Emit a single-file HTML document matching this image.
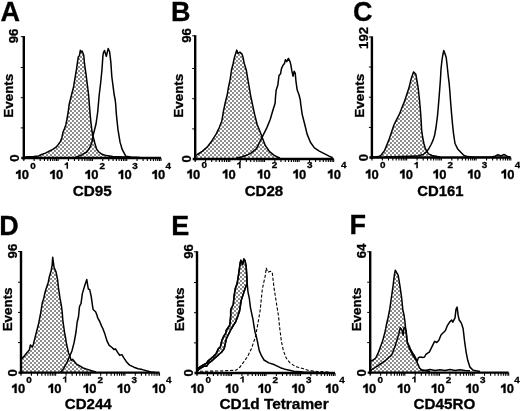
<!DOCTYPE html>
<html><head><meta charset="utf-8"><style>
html,body{margin:0;padding:0;background:#fff;}
svg{display:block;filter:grayscale(1);}
text{font-family:"Liberation Sans", sans-serif;font-weight:bold;fill:#000;stroke:#000;stroke-width:0.3px;}
path.g1{stroke:#000;stroke-width:0.3px;}
</style></head><body>
<svg width="520" height="411" viewBox="0 0 520 411">
<defs>
<pattern id="hatch" width="4" height="4" patternUnits="userSpaceOnUse">
<rect width="4" height="4" fill="#fff"/>
<rect x="0" y="0" width="2" height="2" fill="#8c8c8c"/>
<rect x="2" y="2" width="2" height="2" fill="#8c8c8c"/>
</pattern>
</defs>
<rect width="520" height="411" fill="#fff"/>
<polygon points="24.5,157.2 26.9,156.8 33.7,156.5 38.6,156.0 41.5,154.5 45.4,153.1 49.3,151.1 53.2,149.2 56.1,147.2 58.5,144.3 60.5,141.4 61.9,137.5 62.9,132.6 64.4,128.8 65.8,124.9 66.8,120.0 68.2,112.0 69.2,104.2 71.5,95.0 73.6,86.7 75.0,78.0 76.5,69.2 77.5,62.0 78.3,57.0 79.5,55.5 80.3,50.3 81.2,52.0 82.1,51.0 83.7,55.0 84.5,63.7 86.1,74.8 87.7,87.5 88.6,95.0 89.4,105.0 90.2,115.0 91.0,123.0 92.0,131.5 93.0,135.8 94.8,143.0 96.6,149.3 98.9,152.0 102.0,154.3 106.5,155.6 112.8,156.5 130.0,157.3 130.0,158.0 24.5,158.0" fill="url(#hatch)" stroke="none"/>
<polyline points="24.5,157.2 26.9,156.8 33.7,156.5 38.6,156.0 41.5,154.5 45.4,153.1 49.3,151.1 53.2,149.2 56.1,147.2 58.5,144.3 60.5,141.4 61.9,137.5 62.9,132.6 64.4,128.8 65.8,124.9 66.8,120.0 68.2,112.0 69.2,104.2 71.5,95.0 73.6,86.7 75.0,78.0 76.5,69.2 77.5,62.0 78.3,57.0 79.5,55.5 80.3,50.3 81.2,52.0 82.1,51.0 83.7,55.0 84.5,63.7 86.1,74.8 87.7,87.5 88.6,95.0 89.4,105.0 90.2,115.0 91.0,123.0 92.0,131.5 93.0,135.8 94.8,143.0 96.6,149.3 98.9,152.0 102.0,154.3 106.5,155.6 112.8,156.5 130.0,157.3" fill="none" stroke="#000" stroke-width="1.5" stroke-linejoin="round"/>
<polyline points="75.0,157.5 78.6,156.1 82.2,154.7 86.7,152.0 89.9,147.5 91.7,143.0 93.0,135.8 94.3,130.8 96.0,124.0 97.7,112.0 99.2,95.0 100.7,82.5 102.0,69.3 102.9,56.0 103.5,52.3 104.5,50.5 106.3,56.4 108.2,48.5 109.6,51.7 110.8,61.9 111.8,76.5 113.7,91.2 114.2,95.0 115.2,100.0 115.6,103.5 116.4,114.6 117.9,129.2 120.1,142.4 122.3,149.7 125.9,156.3 131.0,157.0 140.0,157.5" fill="none" stroke="#000" stroke-width="1.5" stroke-linejoin="round"/>
<line x1="23.8" y1="36.1" x2="23.8" y2="159.5" stroke="#000" stroke-width="2.4"/>
<line x1="21.3" y1="158" x2="161" y2="158" stroke="#000" stroke-width="2.3"/>
<line x1="20.8" y1="36.7" x2="23.8" y2="36.7" stroke="#000" stroke-width="1"/>
<line x1="20.8" y1="127.9" x2="23.8" y2="127.9" stroke="#000" stroke-width="1"/>
<line x1="20.8" y1="97.7" x2="23.8" y2="97.7" stroke="#000" stroke-width="1"/>
<line x1="20.8" y1="67.5" x2="23.8" y2="67.5" stroke="#000" stroke-width="1"/>
<path d="M23.80 158 v3.0 M34.13 158 v3.0 M40.17 158 v3.0 M44.45 158 v3.0 M47.77 158 v3.0 M50.49 158 v3.0 M52.79 158 v3.0 M54.78 158 v3.0 M56.53 158 v3.0 M58.10 158 v3.0 M68.43 158 v3.0 M74.47 158 v3.0 M78.75 158 v3.0 M82.07 158 v3.0 M84.79 158 v3.0 M87.09 158 v3.0 M89.08 158 v3.0 M90.83 158 v3.0 M92.40 158 v3.0 M102.73 158 v3.0 M108.77 158 v3.0 M113.05 158 v3.0 M116.37 158 v3.0 M119.09 158 v3.0 M121.39 158 v3.0 M123.38 158 v3.0 M125.13 158 v3.0 M126.70 158 v3.0 M137.03 158 v3.0 M143.07 158 v3.0 M147.35 158 v3.0 M150.67 158 v3.0 M153.39 158 v3.0 M155.69 158 v3.0 M157.68 158 v3.0 M159.43 158 v3.0 M161.00 158 v3.0" stroke="#000" stroke-width="1.1"/>
<path class="g1" transform="translate(16.00,179.10)" d="M4.55,0 L2.5,0 L2.5,-6.2 C1.9,-5.6 1,-5.2 0,-5.0 L0,-7.0 C1.4,-7.3 2.3,-8.2 2.8,-9.2 L4.55,-9.2 Z"/>
<text x="21.78" y="179.20" font-size="13" >0</text>
<text transform="translate(30.20,168.70) scale(1.1,1)" font-size="9">0</text>
<path class="g1" transform="translate(50.20,179.10)" d="M4.55,0 L2.5,0 L2.5,-6.2 C1.9,-5.6 1,-5.2 0,-5.0 L0,-7.0 C1.4,-7.3 2.3,-8.2 2.8,-9.2 L4.55,-9.2 Z"/>
<text x="55.98" y="179.20" font-size="13" >0</text>
<path transform="translate(64.60,168.70) scale(0.76,0.69)" d="M4.55,0 L2.5,0 L2.5,-6.2 C1.9,-5.6 1,-5.2 0,-5.0 L0,-7.0 C1.4,-7.3 2.3,-8.2 2.8,-9.2 L4.55,-9.2 Z"/>
<path class="g1" transform="translate(85.40,179.10)" d="M4.55,0 L2.5,0 L2.5,-6.2 C1.9,-5.6 1,-5.2 0,-5.0 L0,-7.0 C1.4,-7.3 2.3,-8.2 2.8,-9.2 L4.55,-9.2 Z"/>
<text x="91.18" y="179.20" font-size="13" >0</text>
<text transform="translate(99.40,168.70) scale(1.1,1)" font-size="9">2</text>
<path class="g1" transform="translate(118.60,179.10)" d="M4.55,0 L2.5,0 L2.5,-6.2 C1.9,-5.6 1,-5.2 0,-5.0 L0,-7.0 C1.4,-7.3 2.3,-8.2 2.8,-9.2 L4.55,-9.2 Z"/>
<text x="124.38" y="179.20" font-size="13" >0</text>
<text transform="translate(132.30,168.70) scale(1.1,1)" font-size="9">3</text>
<path class="g1" transform="translate(152.30,179.10)" d="M4.55,0 L2.5,0 L2.5,-6.2 C1.9,-5.6 1,-5.2 0,-5.0 L0,-7.0 C1.4,-7.3 2.3,-8.2 2.8,-9.2 L4.55,-9.2 Z"/>
<text x="158.08" y="179.20" font-size="13" >0</text>
<text transform="translate(165.50,168.70) scale(1.1,1)" font-size="9">4</text>
<text transform="translate(18.40,36.00) rotate(-90)" text-anchor="middle" font-size="13.2">96</text>
<text transform="translate(18.70,158.00) rotate(-90)" text-anchor="middle" font-size="13.2">0</text>
<text transform="translate(13.20,95.70) rotate(-90)" text-anchor="middle" font-size="13.4">Events</text>
<text transform="translate(72.79,195.60) scale(1.070,1)" font-size="14.3">CD95</text>
<text x="0.39" y="20.80" font-size="27" >A</text>
<polygon points="196.0,155.5 197.3,154.5 202.2,151.3 207.1,147.2 212.0,140.7 216.1,134.1 219.3,127.6 221.8,121.1 223.4,111.3 225.1,103.2 227.2,95.0 228.4,87.6 230.2,79.1 231.4,70.5 233.2,63.2 234.5,57.2 236.7,50.1 238.0,53.5 239.9,52.1 242.0,54.1 243.0,57.2 244.2,63.2 246.4,70.5 247.8,79.1 249.3,87.6 250.5,95.0 252.2,103.2 254.7,114.6 257.1,124.3 260.4,132.5 262.8,139.0 265.3,145.5 269.3,151.3 274.2,155.3 277.5,157.0 280.0,158.0 280.0,159.0 196.0,159.0" fill="url(#hatch)" stroke="none"/>
<polyline points="196.0,155.5 197.3,154.5 202.2,151.3 207.1,147.2 212.0,140.7 216.1,134.1 219.3,127.6 221.8,121.1 223.4,111.3 225.1,103.2 227.2,95.0 228.4,87.6 230.2,79.1 231.4,70.5 233.2,63.2 234.5,57.2 236.7,50.1 238.0,53.5 239.9,52.1 242.0,54.1 243.0,57.2 244.2,63.2 246.4,70.5 247.8,79.1 249.3,87.6 250.5,95.0 252.2,103.2 254.7,114.6 257.1,124.3 260.4,132.5 262.8,139.0 265.3,145.5 269.3,151.3 274.2,155.3 277.5,157.0 280.0,158.0" fill="none" stroke="#000" stroke-width="1.5" stroke-linejoin="round"/>
<polyline points="236.0,158.0 241.6,157.0 246.5,155.3 251.4,152.9 256.3,148.8 259.6,142.3 262.8,135.8 266.9,127.6 270.2,119.5 272.6,111.3 275.1,103.2 275.5,97.0 276.2,90.1 277.8,85.3 279.0,75.5 280.6,73.7 281.4,68.9 283.0,65.2 284.5,63.4 285.4,59.7 286.7,61.6 288.4,58.3 290.0,61.6 290.8,64.6 291.8,70.7 293.0,76.2 294.2,71.3 295.2,73.1 296.0,81.6 297.2,90.1 299.1,95.0 300.3,100.0 300.6,103.1 302.2,114.5 304.7,124.3 307.1,134.1 310.4,142.2 314.4,147.9 319.3,151.2 324.2,153.6 329.1,156.1 332.7,157.7" fill="none" stroke="#000" stroke-width="1.5" stroke-linejoin="round"/>
<line x1="195.2" y1="35.2" x2="195.2" y2="160.5" stroke="#000" stroke-width="2.4"/>
<line x1="192.7" y1="159" x2="333.7" y2="159" stroke="#000" stroke-width="2.3"/>
<line x1="192.2" y1="35.8" x2="195.2" y2="35.8" stroke="#000" stroke-width="1"/>
<line x1="192.2" y1="128.9" x2="195.2" y2="128.9" stroke="#000" stroke-width="1"/>
<line x1="192.2" y1="98.7" x2="195.2" y2="98.7" stroke="#000" stroke-width="1"/>
<line x1="192.2" y1="68.5" x2="195.2" y2="68.5" stroke="#000" stroke-width="1"/>
<path d="M195.20 159 v3.0 M205.62 159 v3.0 M211.72 159 v3.0 M216.05 159 v3.0 M219.40 159 v3.0 M222.14 159 v3.0 M224.46 159 v3.0 M226.47 159 v3.0 M228.24 159 v3.0 M229.82 159 v3.0 M240.25 159 v3.0 M246.35 159 v3.0 M250.67 159 v3.0 M254.03 159 v3.0 M256.77 159 v3.0 M259.09 159 v3.0 M261.09 159 v3.0 M262.87 159 v3.0 M264.45 159 v3.0 M274.87 159 v3.0 M280.97 159 v3.0 M285.30 159 v3.0 M288.65 159 v3.0 M291.39 159 v3.0 M293.71 159 v3.0 M295.72 159 v3.0 M297.49 159 v3.0 M299.07 159 v3.0 M309.50 159 v3.0 M315.60 159 v3.0 M319.92 159 v3.0 M323.28 159 v3.0 M326.02 159 v3.0 M328.34 159 v3.0 M330.34 159 v3.0 M332.12 159 v3.0 M333.70 159 v3.0" stroke="#000" stroke-width="1.1"/>
<path class="g1" transform="translate(187.30,178.60)" d="M4.55,0 L2.5,0 L2.5,-6.2 C1.9,-5.6 1,-5.2 0,-5.0 L0,-7.0 C1.4,-7.3 2.3,-8.2 2.8,-9.2 L4.55,-9.2 Z"/>
<text x="193.08" y="178.70" font-size="13" >0</text>
<text transform="translate(201.50,168.20) scale(1.1,1)" font-size="9">0</text>
<path class="g1" transform="translate(222.80,178.60)" d="M4.55,0 L2.5,0 L2.5,-6.2 C1.9,-5.6 1,-5.2 0,-5.0 L0,-7.0 C1.4,-7.3 2.3,-8.2 2.8,-9.2 L4.55,-9.2 Z"/>
<text x="228.58" y="178.70" font-size="13" >0</text>
<path transform="translate(237.20,168.20) scale(0.76,0.69)" d="M4.55,0 L2.5,0 L2.5,-6.2 C1.9,-5.6 1,-5.2 0,-5.0 L0,-7.0 C1.4,-7.3 2.3,-8.2 2.8,-9.2 L4.55,-9.2 Z"/>
<path class="g1" transform="translate(257.70,178.60)" d="M4.55,0 L2.5,0 L2.5,-6.2 C1.9,-5.6 1,-5.2 0,-5.0 L0,-7.0 C1.4,-7.3 2.3,-8.2 2.8,-9.2 L4.55,-9.2 Z"/>
<text x="263.48" y="178.70" font-size="13" >0</text>
<text transform="translate(271.70,168.20) scale(1.1,1)" font-size="9">2</text>
<path class="g1" transform="translate(293.30,178.60)" d="M4.55,0 L2.5,0 L2.5,-6.2 C1.9,-5.6 1,-5.2 0,-5.0 L0,-7.0 C1.4,-7.3 2.3,-8.2 2.8,-9.2 L4.55,-9.2 Z"/>
<text x="299.08" y="178.70" font-size="13" >0</text>
<text transform="translate(307.00,168.20) scale(1.1,1)" font-size="9">3</text>
<path class="g1" transform="translate(327.90,178.60)" d="M4.55,0 L2.5,0 L2.5,-6.2 C1.9,-5.6 1,-5.2 0,-5.0 L0,-7.0 C1.4,-7.3 2.3,-8.2 2.8,-9.2 L4.55,-9.2 Z"/>
<text x="333.68" y="178.70" font-size="13" >0</text>
<text transform="translate(341.10,168.20) scale(1.1,1)" font-size="9">4</text>
<text transform="translate(191.40,35.50) rotate(-90)" text-anchor="middle" font-size="13.2">96</text>
<text transform="translate(191.20,158.80) rotate(-90)" text-anchor="middle" font-size="13.2">0</text>
<text transform="translate(183.30,95.70) rotate(-90)" text-anchor="middle" font-size="13.4">Events</text>
<text transform="translate(244.70,195.50) scale(1.053,1)" font-size="14.3">CD28</text>
<text x="171.01" y="20.50" font-size="27" >B</text>
<polygon points="373.0,157.3 378.9,156.6 381.2,155.0 384.7,150.4 387.0,144.6 389.3,138.8 391.6,131.9 393.9,125.0 396.2,120.4 399.7,113.5 402.0,107.5 404.3,101.9 406.6,95.0 408.9,88.1 411.2,78.8 413.5,71.9 415.8,74.2 417.0,81.0 418.2,88.1 419.4,99.0 420.5,111.2 421.1,120.0 421.6,129.6 422.6,137.0 423.9,143.5 425.0,147.5 426.2,150.4 428.5,153.8 432.0,155.5 440.0,157.0 440.0,157.5 373.0,157.5" fill="url(#hatch)" stroke="none"/>
<polyline points="373.0,157.3 378.9,156.6 381.2,155.0 384.7,150.4 387.0,144.6 389.3,138.8 391.6,131.9 393.9,125.0 396.2,120.4 399.7,113.5 402.0,107.5 404.3,101.9 406.6,95.0 408.9,88.1 411.2,78.8 413.5,71.9 415.8,74.2 417.0,81.0 418.2,88.1 419.4,99.0 420.5,111.2 421.1,120.0 421.6,129.6 422.6,137.0 423.9,143.5 425.0,147.5 426.2,150.4 428.5,153.8 432.0,155.5 440.0,157.0" fill="none" stroke="#000" stroke-width="1.5" stroke-linejoin="round"/>
<polyline points="385.0,157.0 400.0,156.6 410.0,156.2 418.3,155.7 423.2,154.5 425.8,152.4 428.7,148.9 431.1,144.5 433.1,140.1 434.6,135.3 436.0,127.5 437.5,115.8 438.3,107.0 439.0,98.3 439.8,88.0 440.4,80.0 441.0,69.2 442.0,60.0 442.7,55.5 443.8,50.5 444.9,53.5 446.2,57.5 447.2,66.0 448.3,76.5 449.2,83.7 449.9,92.0 450.6,102.0 451.5,112.9 452.5,124.0 453.5,133.3 455.0,143.5 457.9,149.3 460.8,152.2 463.7,155.2 467.2,156.6 475.0,157.2 490.0,157.2 495.0,156.2 498.0,154.8 501.0,156.0 504.0,154.5 507.0,156.2 510.0,157.2" fill="none" stroke="#000" stroke-width="1.5" stroke-linejoin="round"/>
<line x1="371.9" y1="36.4" x2="371.9" y2="159.0" stroke="#000" stroke-width="2.4"/>
<line x1="369.4" y1="157.5" x2="510.8" y2="157.5" stroke="#000" stroke-width="2.3"/>
<line x1="368.9" y1="37.0" x2="371.9" y2="37.0" stroke="#000" stroke-width="1"/>
<line x1="368.9" y1="127.4" x2="371.9" y2="127.4" stroke="#000" stroke-width="1"/>
<line x1="368.9" y1="97.2" x2="371.9" y2="97.2" stroke="#000" stroke-width="1"/>
<line x1="368.9" y1="67.0" x2="371.9" y2="67.0" stroke="#000" stroke-width="1"/>
<path d="M371.90 157.5 v3.0 M382.35 157.5 v3.0 M388.47 157.5 v3.0 M392.81 157.5 v3.0 M396.17 157.5 v3.0 M398.92 157.5 v3.0 M401.25 157.5 v3.0 M403.26 157.5 v3.0 M405.04 157.5 v3.0 M406.62 157.5 v3.0 M417.08 157.5 v3.0 M423.19 157.5 v3.0 M427.53 157.5 v3.0 M430.90 157.5 v3.0 M433.65 157.5 v3.0 M435.97 157.5 v3.0 M437.98 157.5 v3.0 M439.76 157.5 v3.0 M441.35 157.5 v3.0 M451.80 157.5 v3.0 M457.92 157.5 v3.0 M462.26 157.5 v3.0 M465.62 157.5 v3.0 M468.37 157.5 v3.0 M470.70 157.5 v3.0 M472.71 157.5 v3.0 M474.49 157.5 v3.0 M476.07 157.5 v3.0 M486.53 157.5 v3.0 M492.64 157.5 v3.0 M496.98 157.5 v3.0 M500.35 157.5 v3.0 M503.10 157.5 v3.0 M505.42 157.5 v3.0 M507.43 157.5 v3.0 M509.21 157.5 v3.0 M510.80 157.5 v3.0" stroke="#000" stroke-width="1.1"/>
<path class="g1" transform="translate(365.80,178.60)" d="M4.55,0 L2.5,0 L2.5,-6.2 C1.9,-5.6 1,-5.2 0,-5.0 L0,-7.0 C1.4,-7.3 2.3,-8.2 2.8,-9.2 L4.55,-9.2 Z"/>
<text x="371.58" y="178.70" font-size="13" >0</text>
<text transform="translate(380.00,168.20) scale(1.1,1)" font-size="9">0</text>
<path class="g1" transform="translate(400.00,178.60)" d="M4.55,0 L2.5,0 L2.5,-6.2 C1.9,-5.6 1,-5.2 0,-5.0 L0,-7.0 C1.4,-7.3 2.3,-8.2 2.8,-9.2 L4.55,-9.2 Z"/>
<text x="405.78" y="178.70" font-size="13" >0</text>
<path transform="translate(414.40,168.20) scale(0.76,0.69)" d="M4.55,0 L2.5,0 L2.5,-6.2 C1.9,-5.6 1,-5.2 0,-5.0 L0,-7.0 C1.4,-7.3 2.3,-8.2 2.8,-9.2 L4.55,-9.2 Z"/>
<path class="g1" transform="translate(433.40,178.60)" d="M4.55,0 L2.5,0 L2.5,-6.2 C1.9,-5.6 1,-5.2 0,-5.0 L0,-7.0 C1.4,-7.3 2.3,-8.2 2.8,-9.2 L4.55,-9.2 Z"/>
<text x="439.18" y="178.70" font-size="13" >0</text>
<text transform="translate(447.40,168.20) scale(1.1,1)" font-size="9">2</text>
<path class="g1" transform="translate(468.00,178.60)" d="M4.55,0 L2.5,0 L2.5,-6.2 C1.9,-5.6 1,-5.2 0,-5.0 L0,-7.0 C1.4,-7.3 2.3,-8.2 2.8,-9.2 L4.55,-9.2 Z"/>
<text x="473.78" y="178.70" font-size="13" >0</text>
<text transform="translate(481.70,168.20) scale(1.1,1)" font-size="9">3</text>
<path class="g1" transform="translate(501.50,178.60)" d="M4.55,0 L2.5,0 L2.5,-6.2 C1.9,-5.6 1,-5.2 0,-5.0 L0,-7.0 C1.4,-7.3 2.3,-8.2 2.8,-9.2 L4.55,-9.2 Z"/>
<text x="507.28" y="178.70" font-size="13" >0</text>
<text transform="translate(514.70,168.20) scale(1.1,1)" font-size="9">4</text>
<text transform="translate(368.30,37.90) rotate(-90)" text-anchor="middle" font-size="13.2">192</text>
<text transform="translate(368.20,157.70) rotate(-90)" text-anchor="middle" font-size="13.2">0</text>
<text transform="translate(363.80,95.70) rotate(-90)" text-anchor="middle" font-size="13.4">Events</text>
<text transform="translate(417.31,195.90) scale(1.039,1)" font-size="14.3">CD161</text>
<text x="353.12" y="20.60" font-size="27" >C</text>
<polygon points="22.0,358.4 24.1,356.3 27.3,352.2 29.3,350.1 30.4,344.9 32.4,347.0 33.5,343.9 34.5,339.7 36.6,331.5 38.7,323.2 40.7,312.8 42.4,302.4 43.8,298.3 44.6,294.0 46.1,288.7 48.3,282.2 49.3,277.0 51.2,270.5 52.2,264.6 52.7,257.3 54.1,267.5 56.0,271.9 57.5,279.2 58.5,288.0 60.0,298.2 61.4,305.6 62.2,312.0 62.8,320.0 63.8,327.0 64.6,333.0 65.6,338.0 66.5,344.0 67.4,347.6 68.4,352.5 69.8,356.0 71.2,360.5 72.6,359.3 74.0,361.0 76.2,363.8 79.7,365.9 83.2,368.0 87.5,369.4 91.7,370.8 96.0,372.0 96.0,372.7 22.0,372.7" fill="url(#hatch)" stroke="none"/>
<polyline points="22.0,358.4 24.1,356.3 27.3,352.2 29.3,350.1 30.4,344.9 32.4,347.0 33.5,343.9 34.5,339.7 36.6,331.5 38.7,323.2 40.7,312.8 42.4,302.4 43.8,298.3 44.6,294.0 46.1,288.7 48.3,282.2 49.3,277.0 51.2,270.5 52.2,264.6 52.7,257.3 54.1,267.5 56.0,271.9 57.5,279.2 58.5,288.0 60.0,298.2 61.4,305.6 62.2,312.0 62.8,320.0 63.8,327.0 64.6,333.0 65.6,338.0 66.5,344.0 67.4,347.6 68.4,352.5 69.8,356.0 71.2,360.5 72.6,359.3 74.0,361.0 76.2,363.8 79.7,365.9 83.2,368.0 87.5,369.4 91.7,370.8 96.0,372.0" fill="none" stroke="#000" stroke-width="1.5" stroke-linejoin="round"/>
<polyline points="60.6,372.2 63.5,368.7 67.0,362.4 69.8,356.0 71.9,351.0 74.1,342.6 76.0,332.0 77.2,322.0 78.5,316.8 79.5,306.5 81.0,303.6 82.4,293.4 84.6,286.1 86.8,279.5 88.3,289.0 89.7,289.7 91.2,296.3 92.2,303.6 93.1,309.5 95.6,311.7 97.0,315.3 97.8,318.2 99.5,321.0 101.4,325.6 102.8,328.5 104.9,334.1 107.1,341.2 109.2,345.4 112.0,347.5 114.1,349.6 115.5,348.9 117.6,352.4 119.7,355.3 121.9,354.6 124.0,358.1 126.8,362.3 129.6,365.1 133.9,367.2 138.1,368.7 142.3,369.6 146.5,370.8 150.8,371.9 155.0,372.5" fill="none" stroke="#000" stroke-width="1.5" stroke-linejoin="round"/>
<line x1="21" y1="251.0" x2="21" y2="374.2" stroke="#000" stroke-width="2.4"/>
<line x1="18.5" y1="372.7" x2="159.5" y2="372.7" stroke="#000" stroke-width="2.3"/>
<line x1="18" y1="251.6" x2="21" y2="251.6" stroke="#000" stroke-width="1"/>
<line x1="18" y1="342.6" x2="21" y2="342.6" stroke="#000" stroke-width="1"/>
<line x1="18" y1="312.4" x2="21" y2="312.4" stroke="#000" stroke-width="1"/>
<line x1="18" y1="282.2" x2="21" y2="282.2" stroke="#000" stroke-width="1"/>
<path d="M21.00 372.7 v3.0 M31.42 372.7 v3.0 M37.52 372.7 v3.0 M41.85 372.7 v3.0 M45.20 372.7 v3.0 M47.94 372.7 v3.0 M50.26 372.7 v3.0 M52.27 372.7 v3.0 M54.04 372.7 v3.0 M55.62 372.7 v3.0 M66.05 372.7 v3.0 M72.15 372.7 v3.0 M76.47 372.7 v3.0 M79.83 372.7 v3.0 M82.57 372.7 v3.0 M84.89 372.7 v3.0 M86.89 372.7 v3.0 M88.67 372.7 v3.0 M90.25 372.7 v3.0 M100.67 372.7 v3.0 M106.77 372.7 v3.0 M111.10 372.7 v3.0 M114.45 372.7 v3.0 M117.19 372.7 v3.0 M119.51 372.7 v3.0 M121.52 372.7 v3.0 M123.29 372.7 v3.0 M124.88 372.7 v3.0 M135.30 372.7 v3.0 M141.40 372.7 v3.0 M145.72 372.7 v3.0 M149.08 372.7 v3.0 M151.82 372.7 v3.0 M154.14 372.7 v3.0 M156.14 372.7 v3.0 M157.92 372.7 v3.0 M159.50 372.7 v3.0" stroke="#000" stroke-width="1.1"/>
<path class="g1" transform="translate(12.10,392.90)" d="M4.55,0 L2.5,0 L2.5,-6.2 C1.9,-5.6 1,-5.2 0,-5.0 L0,-7.0 C1.4,-7.3 2.3,-8.2 2.8,-9.2 L4.55,-9.2 Z"/>
<text x="17.88" y="393.00" font-size="13" >0</text>
<text transform="translate(26.30,382.50) scale(1.1,1)" font-size="9">0</text>
<path class="g1" transform="translate(48.50,392.90)" d="M4.55,0 L2.5,0 L2.5,-6.2 C1.9,-5.6 1,-5.2 0,-5.0 L0,-7.0 C1.4,-7.3 2.3,-8.2 2.8,-9.2 L4.55,-9.2 Z"/>
<text x="54.28" y="393.00" font-size="13" >0</text>
<path transform="translate(62.90,382.50) scale(0.76,0.69)" d="M4.55,0 L2.5,0 L2.5,-6.2 C1.9,-5.6 1,-5.2 0,-5.0 L0,-7.0 C1.4,-7.3 2.3,-8.2 2.8,-9.2 L4.55,-9.2 Z"/>
<path class="g1" transform="translate(83.50,392.90)" d="M4.55,0 L2.5,0 L2.5,-6.2 C1.9,-5.6 1,-5.2 0,-5.0 L0,-7.0 C1.4,-7.3 2.3,-8.2 2.8,-9.2 L4.55,-9.2 Z"/>
<text x="89.28" y="393.00" font-size="13" >0</text>
<text transform="translate(97.50,382.50) scale(1.1,1)" font-size="9">2</text>
<path class="g1" transform="translate(117.70,392.90)" d="M4.55,0 L2.5,0 L2.5,-6.2 C1.9,-5.6 1,-5.2 0,-5.0 L0,-7.0 C1.4,-7.3 2.3,-8.2 2.8,-9.2 L4.55,-9.2 Z"/>
<text x="123.48" y="393.00" font-size="13" >0</text>
<text transform="translate(131.40,382.50) scale(1.1,1)" font-size="9">3</text>
<path class="g1" transform="translate(152.70,392.90)" d="M4.55,0 L2.5,0 L2.5,-6.2 C1.9,-5.6 1,-5.2 0,-5.0 L0,-7.0 C1.4,-7.3 2.3,-8.2 2.8,-9.2 L4.55,-9.2 Z"/>
<text x="158.48" y="393.00" font-size="13" >0</text>
<text transform="translate(165.90,382.50) scale(1.1,1)" font-size="9">4</text>
<text transform="translate(16.80,251.10) rotate(-90)" text-anchor="middle" font-size="13.2">96</text>
<text transform="translate(17.20,372.80) rotate(-90)" text-anchor="middle" font-size="13.2">0</text>
<text transform="translate(11.70,309.40) rotate(-90)" text-anchor="middle" font-size="13.4">Events</text>
<text transform="translate(64.80,408.90) scale(1.055,1)" font-size="14.3">CD244</text>
<text x="-0.89" y="235.20" font-size="27" >D</text>
<polygon points="197.6,370.5 197.9,368.6 200.4,366.6 202.8,365.2 204.7,364.2 206.7,363.2 208.1,360.8 210.6,358.9 213.0,356.9 214.5,355.4 215.9,354.0 218.4,348.6 220.3,347.2 222.0,340.0 223.6,336.5 225.8,333.1 226.3,330.2 227.7,328.2 229.7,325.3 230.2,321.4 230.7,315.6 230.7,309.7 231.6,307.8 233.3,304.5 233.5,302.0 234.1,295.8 235.3,288.5 237.1,283.6 238.3,276.3 239.5,268.0 240.2,263.0 240.8,260.3 242.6,264.6 243.8,259.1 245.0,260.5 246.2,266.6 246.8,276.3 247.2,283.6 247.2,283.6 245.3,288.0 243.4,293.8 241.4,299.7 240.4,305.5 239.5,311.3 237.5,317.1 235.6,322.0 233.7,324.9 232.2,327.5 230.7,329.8 229.5,332.5 227.7,336.0 226.3,339.0 225.2,344.0 224.2,348.6 221.3,352.5 219.3,354.0 217.4,355.9 215.0,357.9 213.0,359.8 211.1,361.3 208.6,363.2 206.7,366.2 204.2,366.2 200.8,368.1 197.9,370.0 197.6,371.0 197.6,373.0 197.6,373.0" fill="url(#hatch)" stroke="none"/>
<polyline points="197.6,370.5 197.9,368.6 200.4,366.6 202.8,365.2 204.7,364.2 206.7,363.2 208.1,360.8 210.6,358.9 213.0,356.9 214.5,355.4 215.9,354.0 218.4,348.6 220.3,347.2 222.0,340.0 223.6,336.5 225.8,333.1 226.3,330.2 227.7,328.2 229.7,325.3 230.2,321.4 230.7,315.6 230.7,309.7 231.6,307.8 233.3,304.5 233.5,302.0 234.1,295.8 235.3,288.5 237.1,283.6 238.3,276.3 239.5,268.0 240.2,263.0 240.8,260.3 242.6,264.6 243.8,259.1 245.0,260.5 246.2,266.6 246.8,276.3 247.2,283.6 247.2,283.6 245.3,288.0 243.4,293.8 241.4,299.7 240.4,305.5 239.5,311.3 237.5,317.1 235.6,322.0 233.7,324.9 232.2,327.5 230.7,329.8 229.5,332.5 227.7,336.0 226.3,339.0 225.2,344.0 224.2,348.6 221.3,352.5 219.3,354.0 217.4,355.9 215.0,357.9 213.0,359.8 211.1,361.3 208.6,363.2 206.7,366.2 204.2,366.2 200.8,368.1 197.9,370.0 197.6,371.0" fill="none" stroke="#000" stroke-width="1.5" stroke-linejoin="round"/>
<polyline points="197.6,370.5 197.9,368.6 200.4,366.6 202.8,365.2 204.7,364.2 206.7,363.2 208.1,360.8 210.6,358.9 213.0,356.9 214.5,355.4 215.9,354.0 218.4,348.6 220.3,347.2 222.0,340.0 223.6,336.5 225.8,333.1 226.3,330.2 227.7,328.2 229.7,325.3 230.2,321.4 230.7,315.6 230.7,309.7 231.6,307.8 233.3,304.5 233.5,302.0 234.1,295.8 235.3,288.5 237.1,283.6 238.3,276.3 239.5,268.0 240.2,263.0 240.8,260.3 242.6,264.6 243.8,259.1 245.0,260.5 246.2,266.6 246.8,276.3 247.2,283.6 248.0,292.1 249.3,298.2 249.5,300.0 250.5,307.8 251.5,312.7 253.0,319.5 253.9,325.3 255.0,332.1 256.2,336.0 257.3,340.8 259.2,350.4 261.2,355.2 264.0,360.0 268.8,362.9 274.6,364.8 280.4,367.7 286.2,369.6 293.8,371.2 303.5,371.9 315.0,372.2" fill="none" stroke="#000" stroke-width="1.5" stroke-linejoin="round"/>
<polyline points="247.2,283.6 245.3,288.0 243.4,293.8 241.4,299.7 240.4,305.5 239.5,311.3 237.5,317.1 235.6,322.0 233.7,324.9 232.2,327.5 230.7,329.8 229.5,332.5 227.7,336.0 226.3,339.0 225.2,344.0 224.2,348.6 221.3,352.5 219.3,354.0 217.4,355.9 215.0,357.9 213.0,359.8 211.1,361.3 208.6,363.2 206.7,366.2 204.2,366.2 200.8,368.1 197.9,370.0 197.6,371.0" fill="none" stroke="#000" stroke-width="1.5" stroke-linejoin="round"/>
<polyline points="200.0,371.3 220.0,371.0 236.0,370.2 240.0,367.0 243.8,361.9 247.7,356.2 251.5,348.5 255.4,336.9 258.3,321.5 259.4,314.8 260.2,310.0 261.1,301.1 262.3,289.2 263.6,283.2 265.3,275.6 266.2,267.9 267.9,272.2 270.5,271.3 272.2,272.2 273.0,279.0 274.2,289.2 275.6,297.7 276.9,306.2 277.5,310.0 278.6,316.5 279.4,325.4 281.3,340.8 283.3,350.4 286.2,358.1 290.0,362.9 295.8,366.7 303.5,368.7 309.2,370.6 316.9,371.5 330.0,372.0" fill="none" stroke="#000" stroke-width="1.1" stroke-dasharray="3.2 1.8"/>
<line x1="197" y1="251.2" x2="197" y2="374.5" stroke="#000" stroke-width="2.4"/>
<line x1="194.5" y1="373" x2="335" y2="373" stroke="#000" stroke-width="2.3"/>
<line x1="194" y1="251.8" x2="197" y2="251.8" stroke="#000" stroke-width="1"/>
<line x1="194" y1="342.9" x2="197" y2="342.9" stroke="#000" stroke-width="1"/>
<line x1="194" y1="312.7" x2="197" y2="312.7" stroke="#000" stroke-width="1"/>
<line x1="194" y1="282.5" x2="197" y2="282.5" stroke="#000" stroke-width="1"/>
<path d="M197.00 373 v3.0 M207.39 373 v3.0 M213.46 373 v3.0 M217.77 373 v3.0 M221.11 373 v3.0 M223.85 373 v3.0 M226.16 373 v3.0 M228.16 373 v3.0 M229.92 373 v3.0 M231.50 373 v3.0 M241.89 373 v3.0 M247.96 373 v3.0 M252.27 373 v3.0 M255.61 373 v3.0 M258.35 373 v3.0 M260.66 373 v3.0 M262.66 373 v3.0 M264.42 373 v3.0 M266.00 373 v3.0 M276.39 373 v3.0 M282.46 373 v3.0 M286.77 373 v3.0 M290.11 373 v3.0 M292.85 373 v3.0 M295.16 373 v3.0 M297.16 373 v3.0 M298.92 373 v3.0 M300.50 373 v3.0 M310.89 373 v3.0 M316.96 373 v3.0 M321.27 373 v3.0 M324.61 373 v3.0 M327.35 373 v3.0 M329.66 373 v3.0 M331.66 373 v3.0 M333.42 373 v3.0 M335.00 373 v3.0" stroke="#000" stroke-width="1.1"/>
<path class="g1" transform="translate(191.20,392.90)" d="M4.55,0 L2.5,0 L2.5,-6.2 C1.9,-5.6 1,-5.2 0,-5.0 L0,-7.0 C1.4,-7.3 2.3,-8.2 2.8,-9.2 L4.55,-9.2 Z"/>
<text x="196.98" y="393.00" font-size="13" >0</text>
<text transform="translate(205.40,382.50) scale(1.1,1)" font-size="9">0</text>
<path class="g1" transform="translate(225.90,392.90)" d="M4.55,0 L2.5,0 L2.5,-6.2 C1.9,-5.6 1,-5.2 0,-5.0 L0,-7.0 C1.4,-7.3 2.3,-8.2 2.8,-9.2 L4.55,-9.2 Z"/>
<text x="231.68" y="393.00" font-size="13" >0</text>
<path transform="translate(240.30,382.50) scale(0.76,0.69)" d="M4.55,0 L2.5,0 L2.5,-6.2 C1.9,-5.6 1,-5.2 0,-5.0 L0,-7.0 C1.4,-7.3 2.3,-8.2 2.8,-9.2 L4.55,-9.2 Z"/>
<path class="g1" transform="translate(258.50,392.90)" d="M4.55,0 L2.5,0 L2.5,-6.2 C1.9,-5.6 1,-5.2 0,-5.0 L0,-7.0 C1.4,-7.3 2.3,-8.2 2.8,-9.2 L4.55,-9.2 Z"/>
<text x="264.28" y="393.00" font-size="13" >0</text>
<text transform="translate(272.50,382.50) scale(1.1,1)" font-size="9">2</text>
<path class="g1" transform="translate(292.20,392.90)" d="M4.55,0 L2.5,0 L2.5,-6.2 C1.9,-5.6 1,-5.2 0,-5.0 L0,-7.0 C1.4,-7.3 2.3,-8.2 2.8,-9.2 L4.55,-9.2 Z"/>
<text x="297.98" y="393.00" font-size="13" >0</text>
<text transform="translate(305.90,382.50) scale(1.1,1)" font-size="9">3</text>
<path class="g1" transform="translate(326.00,392.90)" d="M4.55,0 L2.5,0 L2.5,-6.2 C1.9,-5.6 1,-5.2 0,-5.0 L0,-7.0 C1.4,-7.3 2.3,-8.2 2.8,-9.2 L4.55,-9.2 Z"/>
<text x="331.78" y="393.00" font-size="13" >0</text>
<text transform="translate(339.20,382.50) scale(1.1,1)" font-size="9">4</text>
<text transform="translate(193.40,251.40) rotate(-90)" text-anchor="middle" font-size="13.2">96</text>
<text transform="translate(193.20,372.80) rotate(-90)" text-anchor="middle" font-size="13.2">0</text>
<text transform="translate(184.00,309.40) rotate(-90)" text-anchor="middle" font-size="13.4">Events</text>
<text transform="translate(219.38,409.10) scale(1.078,1)" font-size="14.3">CD1d Tetramer</text>
<text x="171.31" y="234.80" font-size="27" >E</text>
<polygon points="371.0,361.0 372.7,360.3 375.7,358.0 378.0,353.4 380.3,347.2 382.6,341.1 385.0,331.9 385.8,328.2 386.5,324.2 388.0,318.0 389.7,309.4 391.4,297.5 393.1,285.6 394.3,275.3 395.3,270.2 398.2,275.3 399.9,285.6 401.6,297.5 402.8,309.4 404.2,316.0 405.2,324.0 405.8,330.0 406.7,337.0 407.5,343.0 409.5,348.8 412.6,354.9 415.6,359.5 417.9,364.1 419.6,368.1 422.0,370.0 430.0,371.5 430.0,372.7 371.0,372.7" fill="url(#hatch)" stroke="none"/>
<polyline points="371.0,361.0 372.7,360.3 375.7,358.0 378.0,353.4 380.3,347.2 382.6,341.1 385.0,331.9 385.8,328.2 386.5,324.2 388.0,318.0 389.7,309.4 391.4,297.5 393.1,285.6 394.3,275.3 395.3,270.2 398.2,275.3 399.9,285.6 401.6,297.5 402.8,309.4 404.2,316.0 405.2,324.0 405.8,330.0 406.7,337.0 407.5,343.0 409.5,348.8 412.6,354.9 415.6,359.5 417.9,364.1 419.6,368.1 422.0,370.0 430.0,371.5" fill="none" stroke="#000" stroke-width="1.5" stroke-linejoin="round"/>
<polyline points="371.0,370.2 375.7,367.2 380.3,364.1 385.0,361.0 388.6,357.6 391.7,355.1 393.5,350.3 395.3,345.4 397.2,339.3 399.0,333.2 400.2,327.8 402.0,330.2 403.2,335.1 403.8,328.4 405.1,327.2 406.3,332.0 406.9,339.3 407.5,343.0 408.7,344.8 410.5,349.0 412.4,352.7 414.2,355.1 416.0,358.8 417.2,361.2 418.4,357.6 420.3,357.0 422.7,357.6 424.5,357.0 426.1,354.2 429.3,352.1 431.4,347.8 434.6,341.4 436.8,342.5 438.9,340.3 441.0,335.0 443.2,332.8 445.3,330.7 447.5,325.3 449.6,322.1 451.7,320.0 452.8,322.1 455.0,317.8 456.0,309.3 457.1,307.1 458.2,315.7 459.2,320.0 461.4,323.2 463.1,328.5 464.6,341.4 466.1,352.1 467.8,360.6 469.9,367.1 473.2,370.3 480.0,371.5" fill="none" stroke="#000" stroke-width="1.5" stroke-linejoin="round"/>
<polyline points="420.0,370.0 425.0,370.5 430.0,369.5 435.0,370.5 440.0,369.8 445.0,370.6 450.0,369.6 455.0,370.4 460.0,369.7 465.0,370.5 470.0,370.8" fill="none" stroke="#000" stroke-width="1.5" stroke-linejoin="round"/>
<line x1="370.2" y1="251.2" x2="370.2" y2="374.2" stroke="#000" stroke-width="2.4"/>
<line x1="367.7" y1="372.7" x2="508.7" y2="372.7" stroke="#000" stroke-width="2.3"/>
<line x1="367.2" y1="251.8" x2="370.2" y2="251.8" stroke="#000" stroke-width="1"/>
<line x1="367.2" y1="342.6" x2="370.2" y2="342.6" stroke="#000" stroke-width="1"/>
<line x1="367.2" y1="312.4" x2="370.2" y2="312.4" stroke="#000" stroke-width="1"/>
<line x1="367.2" y1="282.2" x2="370.2" y2="282.2" stroke="#000" stroke-width="1"/>
<path d="M370.20 372.7 v3.0 M380.62 372.7 v3.0 M386.72 372.7 v3.0 M391.05 372.7 v3.0 M394.40 372.7 v3.0 M397.14 372.7 v3.0 M399.46 372.7 v3.0 M401.47 372.7 v3.0 M403.24 372.7 v3.0 M404.82 372.7 v3.0 M415.25 372.7 v3.0 M421.35 372.7 v3.0 M425.67 372.7 v3.0 M429.03 372.7 v3.0 M431.77 372.7 v3.0 M434.09 372.7 v3.0 M436.09 372.7 v3.0 M437.87 372.7 v3.0 M439.45 372.7 v3.0 M449.87 372.7 v3.0 M455.97 372.7 v3.0 M460.30 372.7 v3.0 M463.65 372.7 v3.0 M466.39 372.7 v3.0 M468.71 372.7 v3.0 M470.72 372.7 v3.0 M472.49 372.7 v3.0 M474.07 372.7 v3.0 M484.50 372.7 v3.0 M490.60 372.7 v3.0 M494.92 372.7 v3.0 M498.28 372.7 v3.0 M501.02 372.7 v3.0 M503.34 372.7 v3.0 M505.34 372.7 v3.0 M507.12 372.7 v3.0 M508.70 372.7 v3.0" stroke="#000" stroke-width="1.1"/>
<path class="g1" transform="translate(363.20,392.90)" d="M4.55,0 L2.5,0 L2.5,-6.2 C1.9,-5.6 1,-5.2 0,-5.0 L0,-7.0 C1.4,-7.3 2.3,-8.2 2.8,-9.2 L4.55,-9.2 Z"/>
<text x="368.98" y="393.00" font-size="13" >0</text>
<text transform="translate(377.40,382.50) scale(1.1,1)" font-size="9">0</text>
<path class="g1" transform="translate(397.80,392.90)" d="M4.55,0 L2.5,0 L2.5,-6.2 C1.9,-5.6 1,-5.2 0,-5.0 L0,-7.0 C1.4,-7.3 2.3,-8.2 2.8,-9.2 L4.55,-9.2 Z"/>
<text x="403.58" y="393.00" font-size="13" >0</text>
<path transform="translate(412.20,382.50) scale(0.76,0.69)" d="M4.55,0 L2.5,0 L2.5,-6.2 C1.9,-5.6 1,-5.2 0,-5.0 L0,-7.0 C1.4,-7.3 2.3,-8.2 2.8,-9.2 L4.55,-9.2 Z"/>
<path class="g1" transform="translate(431.70,392.90)" d="M4.55,0 L2.5,0 L2.5,-6.2 C1.9,-5.6 1,-5.2 0,-5.0 L0,-7.0 C1.4,-7.3 2.3,-8.2 2.8,-9.2 L4.55,-9.2 Z"/>
<text x="437.48" y="393.00" font-size="13" >0</text>
<text transform="translate(445.70,382.50) scale(1.1,1)" font-size="9">2</text>
<path class="g1" transform="translate(466.30,392.90)" d="M4.55,0 L2.5,0 L2.5,-6.2 C1.9,-5.6 1,-5.2 0,-5.0 L0,-7.0 C1.4,-7.3 2.3,-8.2 2.8,-9.2 L4.55,-9.2 Z"/>
<text x="472.08" y="393.00" font-size="13" >0</text>
<text transform="translate(480.00,382.50) scale(1.1,1)" font-size="9">3</text>
<path class="g1" transform="translate(501.00,392.90)" d="M4.55,0 L2.5,0 L2.5,-6.2 C1.9,-5.6 1,-5.2 0,-5.0 L0,-7.0 C1.4,-7.3 2.3,-8.2 2.8,-9.2 L4.55,-9.2 Z"/>
<text x="506.78" y="393.00" font-size="13" >0</text>
<text transform="translate(514.20,382.50) scale(1.1,1)" font-size="9">4</text>
<text transform="translate(366.30,251.00) rotate(-90)" text-anchor="middle" font-size="13.2">64</text>
<text transform="translate(366.30,372.80) rotate(-90)" text-anchor="middle" font-size="13.2">0</text>
<text transform="translate(361.20,309.40) rotate(-90)" text-anchor="middle" font-size="13.4">Events</text>
<text transform="translate(413.59,408.50) scale(1.063,1)" font-size="14.3">CD45RO</text>
<text x="349.41" y="234.30" font-size="27" >F</text>
</svg>
</body></html>
